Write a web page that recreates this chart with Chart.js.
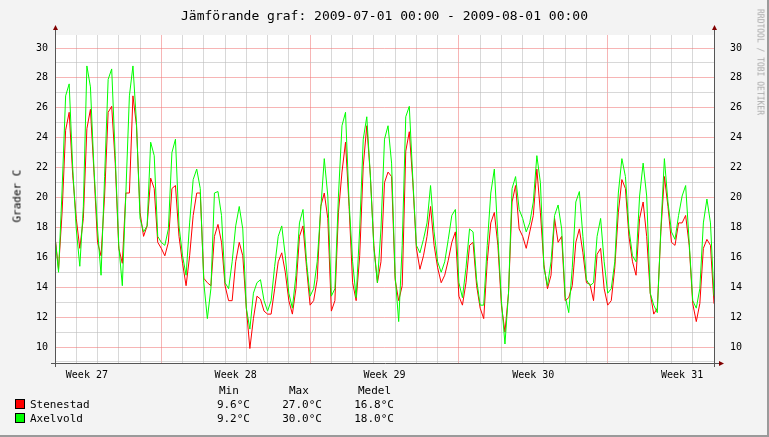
<!DOCTYPE html>
<html>
<head>
<meta charset="utf-8">
<script src="https://cdn.jsdelivr.net/npm/chart.js@4/dist/chart.umd.min.js"></script>
<style>
  body { margin: 0; background: #fff; }
  #wrap { position: relative; width: 769px; height: 437px; background: #f3f3f3;
          box-sizing: border-box; border-right: 2px solid #9a9a9a; border-bottom: 2px solid #9a9a9a;
          font-family: "DejaVu Sans Mono", monospace; color: #000; }
  canvas { position: absolute; left: 0; top: 0; }
  .t { position: absolute; white-space: pre; font-size: 11px; }
  #title { left: 0; width: 769px; top: 8px; text-align: center; font-size: 13px; }
  #ylab { left: 10px; top: 196px; transform: translate(-50%, -50%) rotate(-90deg); transform-origin: center; left: 17px; }
  #wm { left: 760px; top: 62px; transform: translate(-50%, -50%) rotate(90deg); font-size: 8px; color: #aaa; }
  .box { position: absolute; width: 8px; height: 8px; border: 1px solid #000; }
  .r { text-align: right; }
</style>
</head>
<body>
<div id="wrap">
  <canvas id="c" width="769" height="437"></canvas>
  <div id="title" class="t">Jämförande graf: 2009-07-01 00:00 - 2009-08-01 00:00</div>
  <div id="ylab" class="t">Grader C</div>
  <div id="wm" class="t">RRDTOOL / TOBI OETIKER</div>
  <div class="t" style="left:219px;top:384px">Min</div>
  <div class="t" style="left:289px;top:384px">Max</div>
  <div class="t" style="left:358px;top:384px">Medel</div>
  <div class="box" style="left:15px;top:399px;background:#ff0000"></div>
  <div class="box" style="left:15px;top:413px;background:#00ff00"></div>
  <div class="t" style="left:30px;top:398px">Stenestad</div>
  <div class="t" style="left:30px;top:412px">Axelvold</div>
  <div class="t r" style="left:190px;width:60px;top:398px">9.6°C</div>
  <div class="t r" style="left:262px;width:60px;top:398px">27.0°C</div>
  <div class="t r" style="left:334px;width:60px;top:398px">16.8°C</div>
  <div class="t r" style="left:190px;width:60px;top:412px">9.2°C</div>
  <div class="t r" style="left:262px;width:60px;top:412px">30.0°C</div>
  <div class="t r" style="left:334px;width:60px;top:412px">18.0°C</div>
</div>
<script>
// Temperaturer var 4:e timme, 2009-07-01 00:00 .. 2009-08-01 00:00
const stepHours = 4;
const stenestad = [
  17.4, 15.2, 19.0, 24.5, 25.7, 21.5,
  18.6, 16.6, 18.6, 24.6, 25.9, 21.7,
  17.0, 16.1, 20.1, 25.7, 26.1, 22.3,
  16.6, 15.6, 20.3, 20.3, 26.8, 24.8,
  19.0, 17.4, 18.1, 21.3, 20.6, 17.0,
  16.6, 16.1, 17.0, 20.6, 20.8, 17.4,
  15.6, 14.1, 16.1, 18.8, 20.3, 20.3,
  14.6, 14.3, 14.1, 17.4, 18.2, 17.0,
  14.1, 13.1, 13.1, 15.7, 17.0, 16.1,
  12.6, 9.9, 11.9, 13.4, 13.2, 12.4,
  12.2, 12.2, 13.9, 15.7, 16.3, 15.0,
  13.1, 12.2, 13.9, 17.4, 18.1, 15.3,
  12.8, 13.1, 14.5, 19.4, 20.3, 18.6,
  12.4, 13.1, 19.0, 21.7, 23.7, 19.4,
  14.3, 13.1, 16.1, 22.1, 24.8, 21.5,
  16.8, 14.3, 15.7, 21.0, 21.7, 21.4,
  14.5, 13.1, 14.1, 23.1, 24.4, 21.0,
  16.6, 15.2, 16.1, 17.4, 19.4, 16.8,
  15.3, 14.3, 14.8, 15.8, 17.0, 17.7,
  13.4, 12.8, 14.3, 16.8, 17.0, 14.1,
  12.6, 11.9, 15.7, 18.3, 19.0, 16.8,
  12.8, 11.0, 13.6, 19.7, 20.8, 17.9,
  17.4, 16.6, 17.7, 18.8, 21.9, 19.0,
  15.5, 13.9, 14.8, 18.6, 17.0, 17.4,
  13.1, 13.3, 14.1, 17.0, 17.9, 16.3,
  14.3, 14.2, 13.1, 16.2, 16.6, 13.9,
  12.8, 13.1, 15.3, 19.0, 21.2, 20.6,
  17.4, 15.7, 14.8, 18.6, 19.7, 17.4,
  13.6, 12.2, 12.6, 17.7, 21.4, 19.4,
  17.0, 16.8, 18.3, 18.3, 18.8, 16.8,
  12.9, 11.7, 12.9, 16.6, 17.2, 16.8,
  12.9
];
const axelvold = [
  17.4, 15.0, 20.5, 26.8, 27.6, 22.0,
  17.9, 15.4, 19.4, 28.8, 27.4, 21.9,
  17.9, 14.8, 21.4, 27.9, 28.6, 22.8,
  16.8, 14.1, 20.3, 26.8, 28.8, 25.0,
  18.6, 17.7, 18.1, 23.7, 22.8, 17.4,
  17.0, 16.8, 17.9, 23.0, 23.9, 18.1,
  16.1, 14.8, 18.3, 21.2, 21.9, 20.6,
  14.3, 11.9, 13.9, 20.3, 20.4, 18.8,
  14.3, 13.9, 15.7, 18.1, 19.4, 17.9,
  12.6, 11.2, 13.6, 14.3, 14.5, 13.1,
  12.4, 13.1, 15.4, 17.4, 18.1, 16.1,
  13.6, 12.6, 14.8, 18.3, 19.2, 15.7,
  13.4, 13.9, 15.7, 19.2, 22.6, 20.1,
  13.4, 13.9, 20.1, 24.8, 25.7, 19.7,
  15.7, 13.3, 17.9, 23.9, 25.4, 21.5,
  16.6, 14.3, 17.9, 23.9, 24.8, 22.3,
  14.8, 11.7, 16.8, 25.4, 26.1, 21.2,
  16.8, 16.3, 17.2, 18.3, 20.8, 17.7,
  15.7, 15.0, 15.7, 17.2, 18.8, 19.2,
  14.3, 13.3, 15.3, 17.9, 17.7, 14.5,
  12.8, 12.8, 16.8, 20.3, 21.9, 17.4,
  13.1, 10.2, 13.6, 20.6, 21.4, 19.2,
  18.6, 17.7, 18.3, 19.7, 22.8, 21.0,
  15.3, 14.1, 15.7, 18.8, 19.5, 17.9,
  13.4, 12.3, 15.3, 19.7, 20.4, 17.4,
  14.5, 14.1, 14.3, 17.4, 18.6, 15.7,
  13.6, 13.9, 15.7, 20.3, 22.6, 21.4,
  17.9, 16.1, 15.7, 20.1, 22.3, 20.1,
  13.6, 12.8, 12.3, 17.9, 22.6, 19.7,
  17.7, 17.2, 18.8, 20.1, 20.8, 17.0,
  13.1, 12.6, 13.9, 18.3, 19.9, 18.3,
  13.4
];
const yTicks = [10, 12, 14, 16, 18, 20, 22, 24, 26, 28, 30];
const weekLabels = ['Week 27', 'Week 28', 'Week 29', 'Week 30', 'Week 31'];
const weekLabelHours = [36, 204, 372, 540, 708];
const weekStartHours = [120, 288, 456, 624];
const totalHours = 744;

const toPoints = arr => arr.map((v, i) => ({ x: i * stepHours, y: v }));

const axisPlugin = {
  id: 'axes',
  afterDraw(chart) {
    const { ctx, chartArea: a } = chart;
    ctx.save();
    ctx.strokeStyle = '#555';
    ctx.fillStyle = '#800000';
    ctx.lineWidth = 1;
    ctx.beginPath();
    ctx.moveTo(a.left + 0.5, a.top - 6); ctx.lineTo(a.left + 0.5, a.bottom + 4);
    ctx.moveTo(a.left - 4, a.bottom + 0.5); ctx.lineTo(a.right + 6, a.bottom + 0.5);
    ctx.moveTo(a.right + 0.5, a.top - 6); ctx.lineTo(a.right + 0.5, a.bottom + 4);
    ctx.stroke();
    const tri = (x, y, dir) => {
      ctx.beginPath();
      if (dir === 'up') { ctx.moveTo(x, y - 4); ctx.lineTo(x - 2.5, y + 1); ctx.lineTo(x + 2.5, y + 1); }
      else { ctx.moveTo(x + 4, y); ctx.lineTo(x - 1, y - 2.5); ctx.lineTo(x - 1, y + 2.5); }
      ctx.fill();
    };
    tri(a.left + 0.5, a.top - 6, 'up');
    tri(a.right + 0.5, a.top - 6, 'up');
    tri(a.right + 6, a.bottom + 0.5, 'right');
    ctx.restore();
  }
};

const yGrid = {
  color: c => (c.tick && c.tick.value % 2 === 0) ? 'rgba(240,120,120,0.55)' : 'rgba(190,190,190,0.6)',
  drawTicks: false
};

new Chart(document.getElementById('c'), {
  type: 'line',
  data: {
    datasets: [
      { label: 'Axelvold', data: toPoints(axelvold), borderColor: '#00ff00', borderWidth: 1, pointRadius: 0, tension: 0 },
      { label: 'Stenestad', data: toPoints(stenestad), borderColor: '#ff0000', borderWidth: 1, pointRadius: 0, tension: 0 }
    ]
  },
  options: {
    responsive: false,
    animation: false,
    layout: { padding: { top: 35, bottom: 52, left: 0, right: 0 } },
    plugins: { legend: { display: false }, tooltip: { enabled: false } },
    scales: {
      x: {
        type: 'linear', min: 0, max: totalHours,
        afterBuildTicks: s => {
          const t = [];
          for (let h = 24; h < totalHours; h += 24) t.push({ value: h });
          weekLabelHours.forEach(h => t.push({ value: h, label: true }));
          s.ticks = t;
        },
        afterFit: s => { s.height = 22; },
        ticks: {
          autoSkip: false, maxRotation: 0, padding: 6,
          font: { family: 'DejaVu Sans Mono', size: 10 }, color: '#000',
          callback: v => { const i = weekLabelHours.indexOf(v); return i >= 0 ? weekLabels[i] : ''; }
        },
        grid: {
          drawTicks: false,
          color: c => {
            const v = c.tick && c.tick.value;
            if (weekLabelHours.includes(v)) return 'rgba(0,0,0,0)';
            return weekStartHours.includes(v) ? 'rgba(240,120,120,0.55)' : 'rgba(190,190,190,0.6)';
          }
        },
        border: { display: false }
      },
      y: {
        position: 'left', min: 8.93, max: 30.87,
        afterBuildTicks: s => { const t = []; for (let v = 9; v <= 30; v++) t.push({ value: v }); s.ticks = t; },
        afterFit: s => { s.width = 55; },
        ticks: {
          autoSkip: false, padding: 7, font: { family: 'DejaVu Sans Mono', size: 10 }, color: '#000',
          callback: v => yTicks.includes(v) ? String(v) : ''
        },
        grid: yGrid,
        border: { display: false }
      },
      y2: {
        position: 'right', min: 8.93, max: 30.87,
        afterBuildTicks: s => { s.ticks = yTicks.map(v => ({ value: v })); },
        afterFit: s => { s.width = 55; },
        ticks: {
          autoSkip: false, padding: 8, font: { family: 'DejaVu Sans Mono', size: 10 }, color: '#000',
          callback: v => String(v)
        },
        grid: { display: false },
        border: { display: false }
      }
    }
  },
  plugins: [axisPlugin, {
    id: 'bg',
    beforeDraw(chart) {
      const { ctx, chartArea: a } = chart;
      ctx.save(); ctx.fillStyle = '#ffffff';
      ctx.fillRect(a.left, a.top, a.right - a.left, a.bottom - a.top);
      ctx.restore();
    }
  }]
});
</script>
</body>
</html>
